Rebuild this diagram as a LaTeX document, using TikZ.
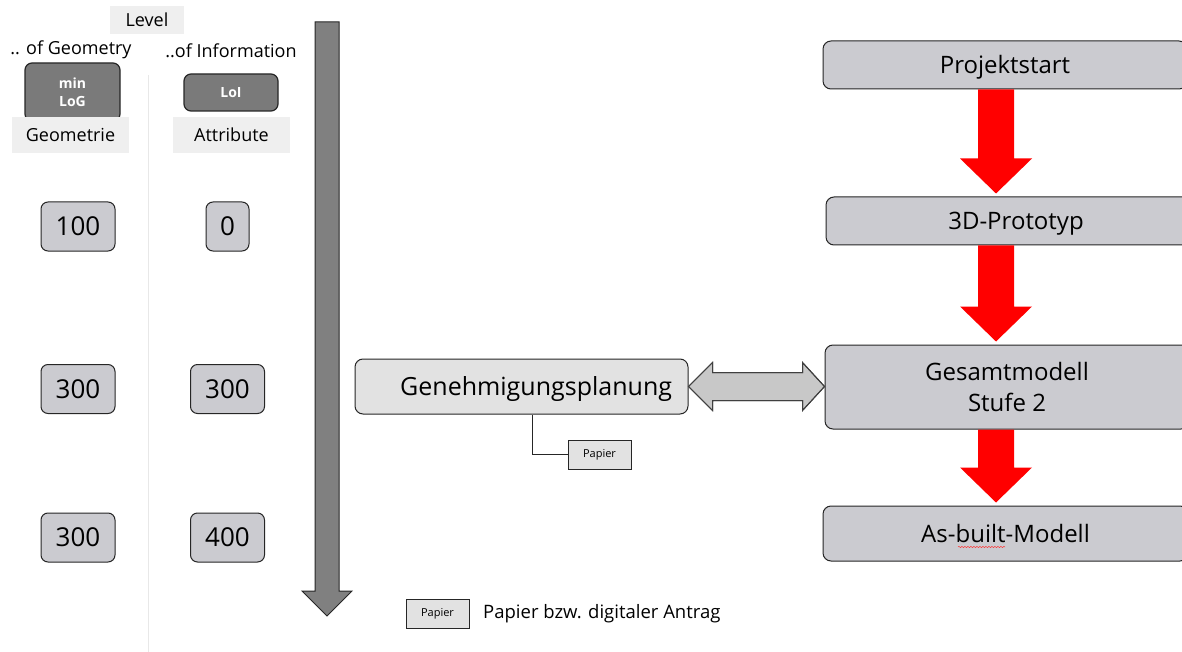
\documentclass[tikz,border=0pt]{standalone}
\usepackage{fontspec}
\setmainfont{Open Sans}
\usetikzlibrary{calc,decorations.pathmorphing}
\definecolor{boxgray}{RGB}{203,203,208}
\definecolor{lblgray}{RGB}{239,239,239}
\definecolor{darkbox}{RGB}{122,122,122}
\definecolor{genfill}{RGB}{226,226,226}
\definecolor{dblfill}{RGB}{200,200,200}
\definecolor{bigarrow}{RGB}{128,128,128}
\definecolor{sepcol}{RGB}{232,232,232}
\newcommand\fsz[2]{\fontsize{#1}{#2}\selectfont}
\newcommand\redarrow[2]{%
  \fill[redarr] let \p1=(#1.south), \p2=(#2.north) in
    (978pt,\y1) -- (1014pt,\y1) -- (1014pt,\y2+38pt) -- (1032pt,\y2+38pt)
    -- (996pt,\y2+3pt) -- (960pt,\y2+38pt) -- (978pt,\y2+38pt) -- cycle;}
\tikzset{
  txt/.style={inner sep=0pt, font=\fsz{18}{18}},
  lbl/.style={fill=lblgray, inner sep=0pt, font=\fsz{18}{18}},
  darkb/.style={draw=black!85, line width=1.2pt, fill=darkbox, rounded corners=7pt, inner sep=0pt,
    text=white, font=\fsz{14}{18}\bfseries, align=center},
  num/.style={draw=black!85, line width=1pt, fill=boxgray, rounded corners=7pt, inner sep=0pt,
    minimum height=49pt, font=\fsz{26}{26}},
  stepbox/.style={draw=black!85, line width=1pt, fill=boxgray, rounded corners=8pt, inner sep=0pt,
    font=\fsz{24}{31}, align=center},
  oneline/.style={text height=17.5pt, text depth=0pt},
  genbox/.style={draw=black!85, line width=1pt, fill=genfill, rounded corners=8pt,
    minimum height=55pt, inner xsep=16pt, inner ysep=0pt, text width=301pt, align=right,
    font=\fsz{25}{25}, text height=18pt, text depth=0pt},
  pap/.style={draw=black!85, line width=1pt, fill=genfill, inner sep=0pt,
    minimum width=63pt, minimum height=29pt, font=\fsz{11}{11}},
  redarr/.style={fill=red},
  dblarr/.style={draw=black!75, line width=1pt, fill=dblfill},
  sepline/.style={draw=sepcol, line width=1pt},
}
\begin{document}
\begin{tikzpicture}[x=1pt,y=-1pt]
\useasboundingbox (0,0) rectangle (1182,652);
% left legend area
\node[lbl, minimum width=74pt, minimum height=28pt] (level) at (147,20) {Level};
\node[txt] (geoh) at (71,50) {.. of Geometry};
\node[txt] (infh) at (231,51) {..of Information};
\draw[sepline] (148,75) -- (148,652);
\node[darkb, minimum width=95pt, minimum height=58pt] (minlog) at (72.5,92) {min\\LoG};
\node[lbl, minimum width=117pt, minimum height=36pt] (geo) at (70.5,135) {Geometrie};
\node[darkb, minimum width=94pt, minimum height=37pt] (loi) at (231,92.5) {LoI};
\node[lbl, minimum width=117pt, minimum height=36pt] (attr) at (231.5,135) {Attribute};
% level numbers
\node[num, minimum width=74pt] (g1) at (78,226.5) {100};
\node[num, minimum width=43pt] (i1) at (227.5,226.5) {0};
\node[num, minimum width=74pt] (g2) at (78,389) {300};
\node[num, minimum width=74pt] (i2) at (227.5,389) {300};
\node[num, minimum width=74pt] (g3) at (78,537.5) {300};
\node[num, minimum width=74pt] (i3) at (227.5,537.5) {400};
% big grey arrow
\draw[draw=black!85, line width=1pt, fill=bigarrow]
  (315,22) -- (339,22) -- (339,591) -- (352,591) -- (327,616) -- (302,591) -- (315,591) -- cycle;
% process boxes
\node[stepbox, oneline, minimum width=364pt, minimum height=48pt] (ps) at (1005,65) {Projektstart};
\node[stepbox, oneline, minimum width=380pt, minimum height=48pt] (proto) at (1016,221) {3D-Prototyp};
\node[stepbox, minimum width=364pt, minimum height=84pt] (gm) at (1007,387) {Gesamtmodell\\Stufe 2};
\node[stepbox, oneline, minimum width=365pt, minimum height=55pt] (ab) at (1005.5,533.5) {As-built-Modell};
\draw[red!80, line width=0.5pt, decorate, decoration={snake, amplitude=0.6pt, segment length=3pt}]
  (958,547) -- (1005,547);
\redarrow{ps}{proto}
\redarrow{proto}{gm}
\redarrow{gm}{ab}
% Genehmigungsplanung
\node[genbox] (gen) at (521.5,386.5) {Genehmigungsplanung};
\fill[dblarr] let \p1=(gen.east), \p2=(gm.west) in
  (\x1,\y1) -- (\x1+24pt,\y1+24pt) -- (\x1+24pt,\y1+14pt) -- (\x2-22pt,\y1+14pt)
  -- (\x2-22pt,\y1+24pt) -- (\x2,\y1) -- (\x2-22pt,\y1-24pt) -- (\x2-22pt,\y1-14pt)
  -- (\x1+24pt,\y1-14pt) -- (\x1+24pt,\y1-24pt) -- cycle;
\draw[dblarr, fill=none] let \p1=(gen.east), \p2=(gm.west) in
  (\x1,\y1) -- (\x1+24pt,\y1+24pt) -- (\x1+24pt,\y1+14pt) -- (\x2-22pt,\y1+14pt)
  -- (\x2-22pt,\y1+24pt) -- (\x2,\y1) -- (\x2-22pt,\y1-24pt) -- (\x2-22pt,\y1-14pt)
  -- (\x1+24pt,\y1-14pt) -- (\x1+24pt,\y1-24pt) -- cycle;
\node[pap] (pap) at (599.5,454.5) {Papier};
\coordinate (conn) at (532,0);
\draw[black!85, line width=1pt] (gen.south -| conn) |- (pap.west);
% legend
\node[pap] (legp) at (437.5,613.5) {Papier};
\node[txt, anchor=west, font=\fsz{18.5}{18.5}] (legt) at (483,614) {Papier bzw. digitaler Antrag};
\end{tikzpicture}
\end{document}
